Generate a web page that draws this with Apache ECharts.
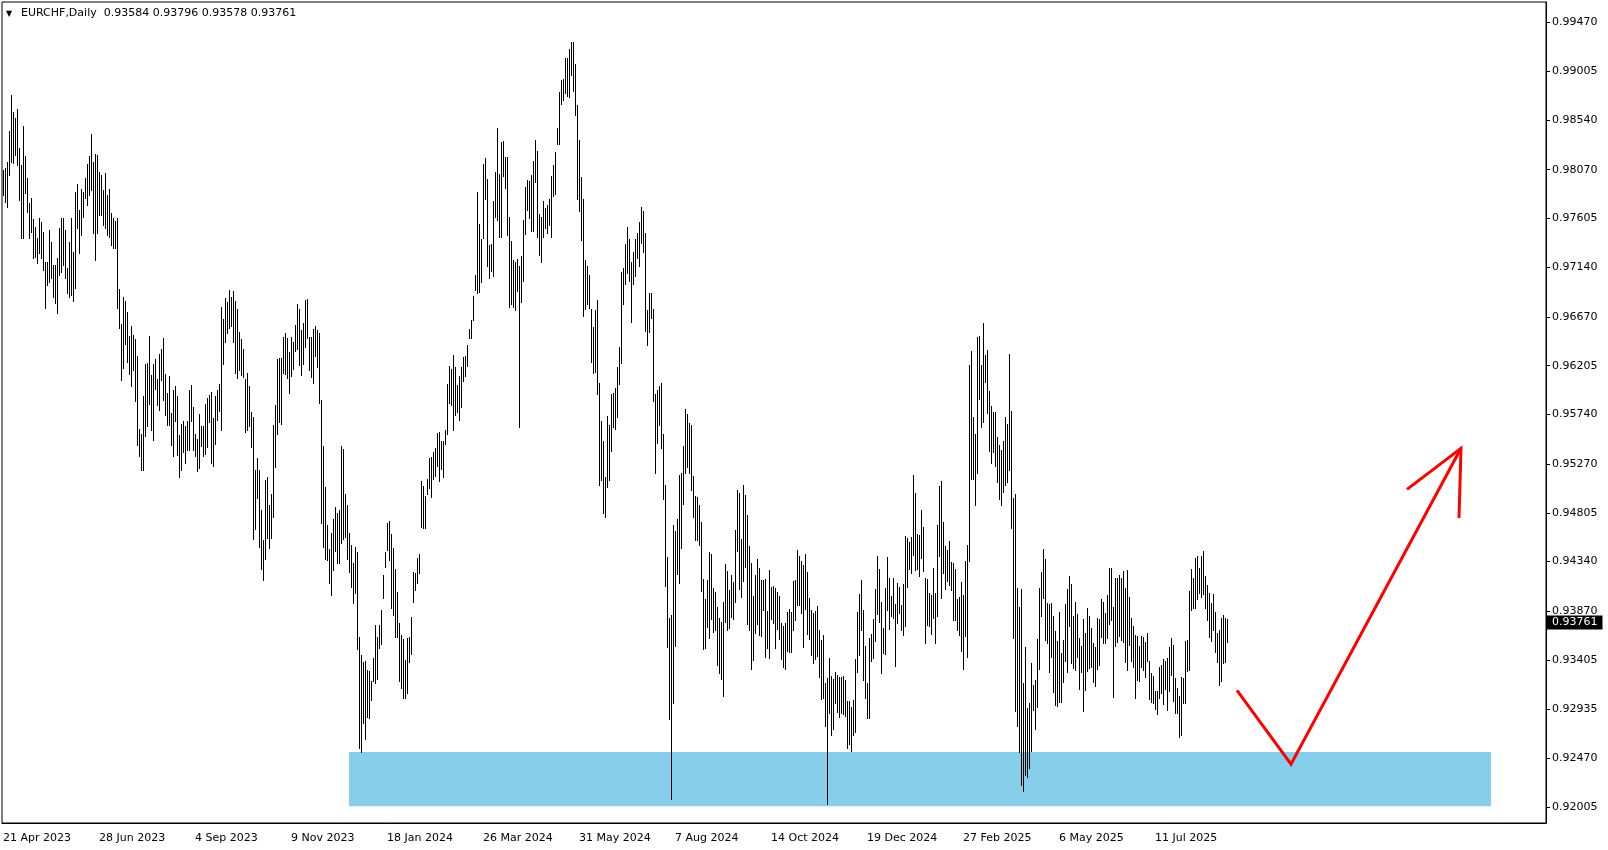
<!DOCTYPE html>
<html><head><meta charset="utf-8">
<script src="https://cdn.jsdelivr.net/npm/echarts@6/dist/echarts.min.js"></script>
<style>html,body{margin:0;padding:0;background:#fff}#c{width:1608px;height:850px}</style>
</head><body><div id="c"></div>
<script>
const symbolName = 'EURCHF,Daily';
const lastBar = {open: 0.93584, high: 0.93796, low: 0.93578, close: 0.93761};

const highs = [
0.98068,0.98090,0.98147,0.98439,0.98781,0.98622,0.98559,0.98648,0.98274,0.98115,
0.98489,0.98204,0.97988,0.97751,0.97798,0.97602,0.97529,0.97418,0.97608,0.97576,
0.97481,0.97196,0.97190,0.97497,0.97386,0.97164,0.97164,0.97228,0.97513,0.97608,
0.97608,0.97497,0.97139,0.97386,0.97608,0.97291,0.97862,0.97931,0.97687,0.97887,
0.97862,0.97988,0.98122,0.98204,0.98407,0.98141,0.98217,0.98210,0.98045,0.98020,
0.97877,0.98042,0.97830,0.97887,0.97656,0.97608,0.97583,0.97608,0.96936,
0.96603,0.96863,0.96822,0.96711,0.96489,0.96584,0.96498,0.96463,0.96299,0.95601,0.95557,
0.95918,0.96223,0.96229,0.96489,0.96118,0.96223,0.96273,0.96077,0.96318,0.96368,
0.96470,0.96127,0.95944,0.96102,0.95753,0.95969,0.96007,0.95912,0.95547,0.95652,
0.95680,0.95627,0.95677,0.95969,0.96023,0.95810,0.95557,0.95506,0.95747,0.95627,
0.95633,0.95842,0.95899,0.95928,0.95956,0.95706,0.95918,0.95975,0.96032,0.96761,
0.96651,0.96850,0.96815,0.96926,0.96857,0.96917,0.96825,0.96746,0.96527,0.96460,
0.96368,0.96080,0.96134,0.96007,
0.95764,0.95719,0.95212,0.95323,0.95212,0.94832,0.94546,0.95117,0.95142,0.94879,
0.94984,0.95640,0.95830,0.96265,0.96274,0.96274,0.96480,0.96512,0.96471,0.96334,
0.96480,0.96433,0.96591,0.96791,0.96740,0.96544,0.96613,0.96829,0.96835,0.96480,
0.96480,0.96550,0.96582,0.96544,0.96518,0.95878,0.95440,0.95054,0.94686,0.94464,
0.94616,0.94749,0.94864,0.94800,0.94832,0.95440,0.95409,0.94984,0.94879,0.94616,
0.94496,0.94325,0.94477,0.94436,0.93627,0.93453,0.93389,0.93399,0.93304,0.93301,
0.93204,0.93424,0.93736,0.93626,0.93736,0.93883,0.94213,0.94433,0.94708,0.94727,
0.94606,0.94470,0.94268,0.94048,0.93754,0.93644,0.93607,0.93405,0.93615,0.93626,
0.93809,0.94239,0.94231,0.94378,0.94415,0.95112,0.95057,0.94965,0.95130,0.95325,
0.95340,0.95387,0.95424,0.95560,0.95571,0.95486,0.95486,0.95589,0.96029,0.96206,
0.96176,0.96305,0.96195,0.96022,0.96103,0.96195,0.96287,0.96294,0.96397,0.96551,
0.96635,0.96866,0.97064,0.97857,0.97553,0.97406,0.98129,
0.98179,0.97983,0.97349,0.97361,0.97773,0.98046,0.98471,0.98027,0.98331,0.98344,
0.98195,0.98195,0.97624,0.97393,0.97212,0.97196,0.97222,0.97149,0.97253,0.97593,
0.97910,0.97973,0.97964,0.98021,0.98154,0.98353,0.98249,0.97647,0.97624,0.97773,
0.97704,0.97735,0.97792,0.98014,0.98116,0.98236,0.98471,0.98813,0.98924,0.98934,
0.99136,0.99136,0.99219,0.99282,0.99282,0.99073,0.98686,0.98353,0.98005,0.97792,
0.97212,0.97149,0.97070,0.96746,0.96569,0.96737,0.96832,0.96039,0.95675,0.95491,
0.95142,0.95722,0.95643,0.95935,0.95941,
0.95994,0.96196,0.96379,0.97095,0.97132,0.97359,0.97528,0.97407,0.97187,0.97286,
0.97407,0.97469,0.97572,0.97712,0.97675,0.97469,0.96735,0.96893,0.96893,0.96746,
0.95939,0.95976,0.96012,0.96038,0.95554,0.95069,0.94387,0.93799,0.93829,0.94691,
0.94629,0.94746,0.95168,0.95179,0.95436,0.95792,0.95744,0.95664,0.95645,0.95157,
0.94966,0.94959,0.94875,0.94717,0.94177,0.93983,0.94166,0.94434,0.94416,0.94086,
0.94050,0.93910,0.93799,0.93763,0.93957,0.94313,0.94251,0.94067,0.94214,
0.94149,0.94641,0.95020,0.94996,0.94555,0.95069,0.94974,0.94783,0.94488,0.94330,
0.94013,0.94213,0.94365,0.94282,0.94165,0.94165,0.94175,0.93874,0.94260,0.94102,
0.94108,0.94089,0.94051,0.94013,0.93760,0.93728,0.93760,0.93861,0.93889,0.93861,
0.94152,0.94165,0.94451,0.94397,0.94346,0.94308,0.94413,0.94241,0.93994,0.93880,
0.93855,0.93874,0.93918,0.93693,0.93595,0.93642,0.93183,0.93236,0.93427,0.93252,
0.93227,0.93290,0.93259,0.93240,0.93246,0.93252,0.93214,0.93015,0.93015,0.92961,
0.93024,0.93414,0.93861,
0.94033,0.94166,0.93875,0.93539,0.93184,0.93612,0.93653,0.93792,0.94078,0.94395,
0.94268,0.93957,0.93707,0.94087,0.94382,0.94182,0.94014,0.94182,0.93938,0.94141,
0.94103,0.93929,0.94128,0.94585,0.94563,0.94531,0.94572,0.95165,0.94997,0.94604,
0.94594,0.94832,0.94667,0.94182,0.94173,0.94046,0.94024,0.94277,0.94046,0.94690,
0.95060,0.95111,0.94718,0.94490,0.94452,0.94540,0.94341,0.94331,0.94268,0.93989,
0.94001,0.94147,0.94020,0.94350,0.94499,0.96211,0.96347,0.95713,0.95555,0.96474,0.96487,0.96211,
0.96607,0.96306,0.96354,0.95964,0.95821,0.95764,0.95764,0.95529,0.95450,0.95403,
0.95488,0.95713,0.95650,0.96316,0.95777,0.94943,0.94984,0.94087,0.93913,0.94078,
0.93184,0.93526,0.92946,0.92993,0.93374,0.93168,0.93215,0.93602,0.94087,0.94246,
0.94458,0.94363,0.93944,0.93938,0.93944,0.93824,0.93684,0.93580,0.93865,0.93469,
0.93596,0.93938,0.94078,0.94204,0.94128,0.93818,0.93957,0.93843,0.93612,0.93539,
0.93792,0.93659,0.93897,0.93824,0.93707,0.93570,0.93526,0.93802,0.93792,0.93982,
0.93960,0.93849,0.94024,
0.94281,0.94281,0.93910,0.94186,0.94180,0.94217,0.94180,0.94252,0.94091,0.94259,
0.94005,0.93799,0.93726,0.93640,0.93631,0.93536,0.93631,0.93618,0.93577,0.93663,
0.93393,0.93276,0.93254,0.93111,0.93108,0.93340,0.93352,0.93409,0.93396,0.93425,
0.93530,0.93615,0.93545,0.93235,0.93133,0.93063,0.93244,0.93235,0.93587,0.93593,
0.94062,0.94268,0.94186,0.94376,0.94395,0.94284,0.94392,0.94442,0.94202,0.94122,
0.94037,0.93942,0.94030,0.93862,0.93663,0.93688,0.93808,0.93830,0.93799,0.93796
];

const lows = [
0.97830,0.97766,0.97719,0.98020,0.98147,0.98131,0.98210,0.98115,0.97782,0.97424,
0.97424,0.97846,0.97671,0.97418,0.97481,0.97228,0.97243,0.97180,0.97275,0.97228,
0.97117,0.96752,0.96974,0.97006,0.97037,0.96863,0.96800,0.96705,0.97069,0.97101,
0.97164,0.97037,0.96895,0.96863,0.96879,0.96816,0.96942,0.97513,0.97275,0.97449,
0.97624,0.97798,0.97735,0.97830,0.97877,0.97465,0.97212,0.97465,0.97640,0.97640,
0.97545,0.97513,0.97449,0.97434,0.97354,0.97329,0.97329,0.96752,0.96560,
0.96064,0.96181,0.96413,0.96242,0.96127,0.96013,0.96165,0.95864,0.95452,0.95341,0.95208,
0.95214,0.95531,0.95633,0.95842,0.95589,0.95500,0.95982,0.95833,0.95785,0.96070,
0.95880,0.95738,0.95643,0.95643,0.95452,0.95341,0.95674,0.95357,0.95142,0.95208,
0.95379,0.95278,0.95405,0.95398,0.95674,0.95398,0.95341,0.95199,0.95230,0.95443,
0.95341,0.95363,0.95430,0.95671,0.95278,0.95246,0.95459,0.95684,0.95769,0.95589,
0.96219,0.96435,0.96514,0.96562,0.96578,0.96435,0.96134,0.96083,0.96165,0.96118,
0.96096,0.95570,0.95589,0.95627,
0.95428,0.94553,0.94654,0.94949,0.94477,0.94268,0.94166,0.94363,0.94562,0.94467,
0.94562,0.94768,0.95238,0.95551,0.95666,0.95646,0.96138,0.96125,0.96084,0.95948,
0.96106,0.96176,0.96347,0.96360,0.96211,0.96112,0.96220,0.96379,0.96468,0.96163,
0.96100,0.96043,0.96296,0.96189,0.95846,0.94705,0.94483,0.94363,0.94356,0.94134,
0.94024,0.94261,0.94439,0.94331,0.94331,0.94521,0.94559,0.94572,0.94369,0.94242,
0.94096,0.93951,0.94046,0.93507,0.92565,0.92524,0.92803,0.92651,0.92866,0.92851,
0.93020,0.93204,0.93185,0.93222,0.93516,0.93552,0.93993,0.94286,0.94452,0.94360,
0.93901,0.93828,0.93626,0.93626,0.93204,0.93138,0.93039,0.93039,0.93094,0.93387,
0.93461,0.93956,0.94066,0.94140,0.94231,0.94672,0.94661,0.94661,0.94984,0.95039,
0.94958,0.95130,0.95156,0.95252,0.95112,0.95222,0.95149,0.95461,0.95553,0.95846,
0.95828,0.95589,0.95736,0.95765,0.95692,0.95809,0.96060,0.96103,0.96206,0.96470,
0.96470,0.96635,0.96929,0.96892,0.96910,0.97002,0.97424,
0.97789,0.97158,0.97038,0.97108,0.97054,0.97624,0.97593,0.97434,0.97434,0.98014,
0.97900,0.97450,0.96759,0.96791,0.96768,0.96737,0.96917,0.95618,0.96810,0.97012,
0.97460,0.97688,0.97608,0.97482,0.97482,0.97951,0.97434,0.97260,0.97190,0.97434,
0.97513,0.97466,0.97539,0.97425,0.97824,0.97837,0.98312,0.98312,0.98696,0.98734,
0.98797,0.98775,0.98766,0.98972,0.98819,0.98591,0.97792,0.97678,0.97402,0.96673,
0.96746,0.96791,0.96753,0.96239,0.96134,0.96144,0.95935,0.95072,0.95120,0.94803,
0.94762,0.95047,0.95120,0.95389,0.95618,
0.95598,0.95719,0.96030,0.96233,0.96794,0.96978,0.97088,0.97014,0.96625,0.96978,
0.97058,0.97234,0.97150,0.97370,0.97286,0.96537,0.96405,0.96526,0.96662,0.95866,
0.95187,0.95473,0.95645,0.95425,0.94937,0.94104,0.93528,0.92838,0.92085,0.92992,
0.93535,0.94225,0.94140,0.94470,0.94893,0.95179,0.95242,0.95179,0.95021,0.94765,
0.94544,0.94544,0.94497,0.94056,0.93506,0.93517,0.93719,0.93609,0.93792,0.93675,
0.93689,0.93359,0.93278,0.93223,0.93058,0.93763,0.93690,0.93711,0.93810,
0.93797,0.93960,0.94444,0.94083,0.94007,0.94159,0.94292,0.93747,0.93690,0.93322,
0.93404,0.93664,0.93747,0.93642,0.93633,0.93880,0.93436,0.93522,0.93427,0.93797,
0.93759,0.93522,0.93702,0.93601,0.93417,0.93341,0.93316,0.93493,0.93484,0.93477,
0.93690,0.93785,0.93924,0.93931,0.93855,0.93531,0.93893,0.93652,0.93601,0.93452,
0.93376,0.93417,0.93442,0.93240,0.93030,0.93040,0.92780,0.92030,0.92897,0.92688,
0.92748,0.92999,0.92910,0.92859,0.92897,0.92894,0.92872,0.92571,0.92606,0.92542,
0.92694,0.92723,0.93293,
0.93453,0.93691,0.93209,0.93040,0.92848,0.92851,0.93399,0.93421,0.93580,0.93843,
0.93770,0.93279,0.93475,0.93463,0.93875,0.93703,0.93818,0.93802,0.93348,0.93754,
0.93850,0.93685,0.93643,0.93729,0.94103,0.94268,0.94236,0.94404,0.94261,0.94268,
0.94204,0.94372,0.94255,0.93570,0.93738,0.93729,0.93653,0.93802,0.93570,0.93818,
0.94395,0.93990,0.94236,0.94084,0.94151,0.94119,0.94071,0.93786,0.93786,0.93685,
0.93643,0.93485,0.93317,0.93634,0.93437,0.94350,0.95124,0.95124,0.94880,0.95181,0.95884,0.95618,
0.95672,0.96052,0.95751,0.95396,0.95282,0.95387,0.95250,0.95101,0.94933,0.94879,
0.95006,0.95070,0.95101,0.95212,0.94658,0.93612,0.92914,0.92772,0.92524,0.92217,
0.92153,0.92312,0.92290,0.92375,0.92534,0.92930,0.92746,0.92955,0.93320,0.93818,
0.93992,0.93596,0.93570,0.93285,0.93428,0.93095,0.92978,0.92962,0.93000,0.93000,
0.93199,0.93390,0.93285,0.93723,0.93380,0.93323,0.93310,0.93437,0.93127,0.93285,
0.92914,0.93114,0.93295,0.93326,0.93336,0.93190,0.93158,0.93317,0.93358,0.93618,
0.93564,0.93564,0.93612,
0.93745,0.93783,0.93054,0.93536,0.93577,0.93631,0.93593,0.93577,0.93387,0.93308,
0.93545,0.93396,0.93339,0.93044,0.93212,0.93206,0.93339,0.93308,0.93238,0.93393,
0.93029,0.93006,0.92991,0.92934,0.92886,0.93038,0.93086,0.92984,0.93124,0.92927,
0.93108,0.93260,0.93016,0.92896,0.92902,0.92667,0.92689,0.92991,0.92991,0.93301,
0.93308,0.93878,0.93894,0.93894,0.93989,0.94037,0.94005,0.94030,0.93894,0.93783,
0.93625,0.93583,0.93688,0.93482,0.93387,0.93165,0.93206,0.93371,0.93387,0.93578
];

const priceTicks = [0.92005,0.92470,0.92935,0.93405,0.93870,0.94340,0.94805,0.95270,
  0.95740,0.96205,0.96670,0.97140,0.97605,0.98070,0.98540,0.99005,0.99470];
const priceMin = 0.918526, priceMax = 0.99666;

const firstDate = [2023, 3, 21];
const slotCount = 772;       // visible bar slots incl. empty right margin
const labelStride = 48;      // one date label every 48 bars
const lastLabelIndex = 576;

// support zone (blue box) and hand-drawn red arrow, in [bar index, price]
const zone = {from: 173, to: 744, top: 0.92529, bottom: 0.92012};
const arrowPath = [[617, 0.93114], [644, 0.92412], [729, 0.95419]];
const arrowHead = [[702, 0.95028], [729, 0.95419], [728, 0.94755]];

const monthNames = ['Jan','Feb','Mar','Apr','May','Jun','Jul','Aug','Sep','Oct','Nov','Dec'];
const dates = [];
{
  let t = Date.UTC(firstDate[0], firstDate[1], firstDate[2]);
  while (dates.length < slotCount) {
    const d = new Date(t);
    const wd = d.getUTCDay(), m = d.getUTCMonth(), day = d.getUTCDate();
    if (wd !== 0 && wd !== 6 && !(m === 11 && day === 25) && !(m === 0 && day === 1)) {
      dates.push(day + ' ' + monthNames[m] + ' ' + d.getUTCFullYear());
    }
    t += 86400000;
  }
}

const bars = highs.map((h, i) => [i, h, lows[i]]);
const FONT = 'DejaVu Sans';

function renderBar(params, api) {
  const top = api.coord([api.value(0), api.value(1)]);
  const bot = api.coord([api.value(0), api.value(2)]);
  const px = Math.round(top[0]) + 0.5;
  return {
    type: 'line',
    shape: {x1: px, y1: Math.round(top[1]), x2: px, y2: Math.round(bot[1]) + 1},
    style: {stroke: '#000', lineWidth: 1}
  };
}

const showLabel = (idx) => idx % labelStride === 0 && idx <= lastLabelIndex;

const chart = echarts.init(document.getElementById('c'));
chart.setOption({
  animation: false,
  backgroundColor: '#fff',
  title: {
    text: '{a|▼}' + symbolName + '  ' + [lastBar.open, lastBar.high, lastBar.low, lastBar.close].map(v => v.toFixed(5)).join(' '),
    left: 6, top: 8, padding: 0,
    textStyle: {
      fontFamily: FONT, fontSize: 11, fontWeight: 'normal', color: '#000',
      rich: {a: {fontSize: 8, width: 15, color: '#000', fontFamily: FONT}}
    }
  },
  grid: {left: 2, top: 2, right: 62, bottom: 27, show: true, borderColor: '#000', borderWidth: 1, containLabel: false},
  xAxis: {
    type: 'category', data: dates, boundaryGap: true,
    axisLine: {show: true, lineStyle: {color: '#000'}},
    axisTick: {show: false},
    axisLabel: {interval: showLabel, align: 'left', margin: 10, fontFamily: FONT, fontSize: 11, color: '#000'},
    splitLine: {show: false}
  },
  yAxis: {
    type: 'value', position: 'right', min: priceMin, max: priceMax, scale: true,
    axisLine: {show: true, lineStyle: {color: '#000'}},
    axisTick: {show: true, length: 4, customValues: priceTicks, lineStyle: {color: '#000'}},
    axisLabel: {customValues: priceTicks, formatter: v => v.toFixed(5), margin: 6,
      padding: [4, 0, 0, 0], fontFamily: FONT, fontSize: 11, color: '#000'},
    splitLine: {show: false}
  },
  series: [
    {
      type: 'line', data: [], z: 1, silent: true,
      markArea: {silent: true, itemStyle: {color: '#87CEEB', opacity: 1},
        data: [[{xAxis: dates[zone.from], yAxis: zone.top}, {xAxis: dates[zone.to], yAxis: zone.bottom}]]}
    },
    {
      type: 'custom', renderItem: renderBar, data: bars, encode: {x: 0, y: [1, 2]}, z: 3, silent: true
    },
    {
      type: 'line', data: [], z: 10, silent: true,
      markLine: {
        silent: true, symbol: 'none', animation: false, precision: 5,
        lineStyle: {color: 'rgba(0,0,0,0)', width: 1, type: 'solid', opacity: 1},
        data: [{yAxis: lastBar.close}],
        label: {show: true, position: 'end', distance: 1, formatter: lastBar.close.toFixed(5),
          backgroundColor: '#000', color: '#fff', opacity: 1, padding: [2, 5, 1, 5], lineHeight: 11,
          fontFamily: FONT, fontSize: 11}
      }
    },
    {type: 'line', data: arrowPath, symbol: 'none', z: 4, silent: true,
      lineStyle: {color: '#ff0000', width: 3, join: 'miter'}},
    {type: 'line', data: arrowHead, symbol: 'none', z: 4, silent: true,
      lineStyle: {color: '#ff0000', width: 3, join: 'miter'}}
  ]
});
</script></body></html>
